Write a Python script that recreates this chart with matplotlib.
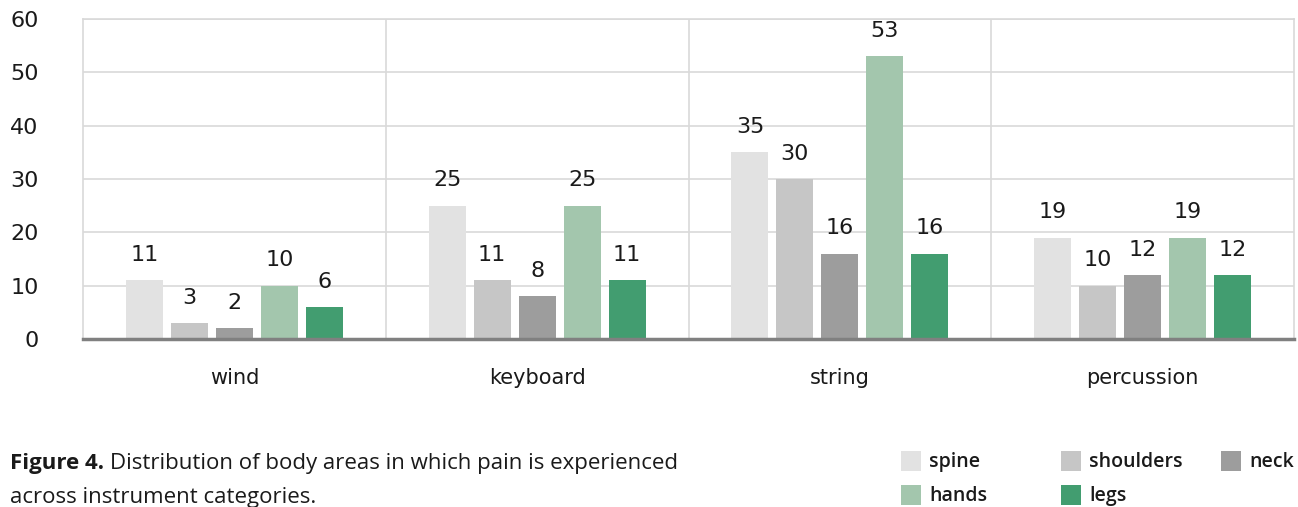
import numpy as np
import matplotlib.pyplot as plt
from matplotlib.patches import Rectangle

categories = ["wind", "keyboard", "string", "percussion"]
areas = ["spine", "shoulders", "neck", "hands", "legs"]
spine = [11, 25, 35, 19]
shoulders = [3, 11, 30, 10]
neck = [2, 8, 16, 12]
hands = [10, 25, 53, 19]
legs = [6, 11, 16, 12]
colors = ["#e2e2e2", "#c6c6c6", "#9d9d9d", "#a3c6ad", "#429d70"]

series = [spine, shoulders, neck, hands, legs]
W, H = 1298, 507

fig = plt.figure(figsize=(W / 100, H / 100), dpi=100)
ax = fig.add_axes([83 / W, 1 - 339 / H, 1211 / W, 320 / H])

x = np.arange(len(categories))
step = 0.1485
width = 0.122
for i, (vals, col) in enumerate(zip(series, colors)):
    pos = x + (i - 2) * step
    bars = ax.bar(pos, vals, width=width, color=col, zorder=3)
    for b, v in zip(bars, vals):
        ax.annotate(str(v), (b.get_x() + b.get_width() / 2, v),
                    xytext=(0, 11), textcoords="offset points",
                    ha="center", va="bottom", fontsize=16, color="#1a1a1a")

ax.set_xlim(-0.5, 3.5)
ax.set_ylim(0, 60)
ax.set_yticks(range(0, 61, 10))
ax.set_xticks(x)
ax.set_xticklabels(categories)
ax.set_xticks(x[:-1] + 0.5, minor=True)
ax.tick_params(axis="both", which="both", length=0, labelsize=16, colors="#1a1a1a")
ax.tick_params(axis="y", pad=32)
ax.tick_params(axis="x", pad=21, labelsize=15)
ax.grid(axis="y", color="#d9d9d9", linewidth=1.2, zorder=0)
ax.grid(axis="x", which="minor", color="#d9d9d9", linewidth=1.2, zorder=0)

for side in ["left", "right", "top"]:
    ax.spines[side].set_color("#d9d9d9")
    ax.spines[side].set_linewidth(1.2)
ax.spines["bottom"].set_color("#808080")
ax.spines["bottom"].set_linewidth(2.5)
ax.spines["bottom"].set_zorder(4)

# caption below the plot
cap_font = dict(family="Open Sans", fontsize=16, color="#1a1a1a", va="baseline")
y1 = 1 - 469 / H
y2 = 1 - 503 / H
bold = fig.text(10 / W, y1, "Figure 4.", fontweight="bold", **cap_font)
fig.canvas.draw()
bb = bold.get_window_extent()
fig.text((bb.x1 + 6) / W, y1,
         "Distribution of body areas in which pain is experienced", **cap_font)
fig.text(10 / W, y2, "across instrument categories.", **cap_font)

# legend drawn as swatches + labels
leg_pos = [(901, 451), (1061, 451), (1221, 451), (901, 485), (1061, 485)]
for (lx, ly), name, col in zip(leg_pos, areas, colors):
    fig.patches.append(Rectangle((lx / W, 1 - (ly + 20) / H), 20 / W, 20 / H,
                                 transform=fig.transFigure, facecolor=col,
                                 edgecolor="none"))
    fig.text((lx + 28) / W, 1 - (ly + 11) / H, name, family="Open Sans",
             fontweight="semibold", fontsize=14, color="#1a1a1a", va="center")

fig.savefig("out.png", dpi=100)
